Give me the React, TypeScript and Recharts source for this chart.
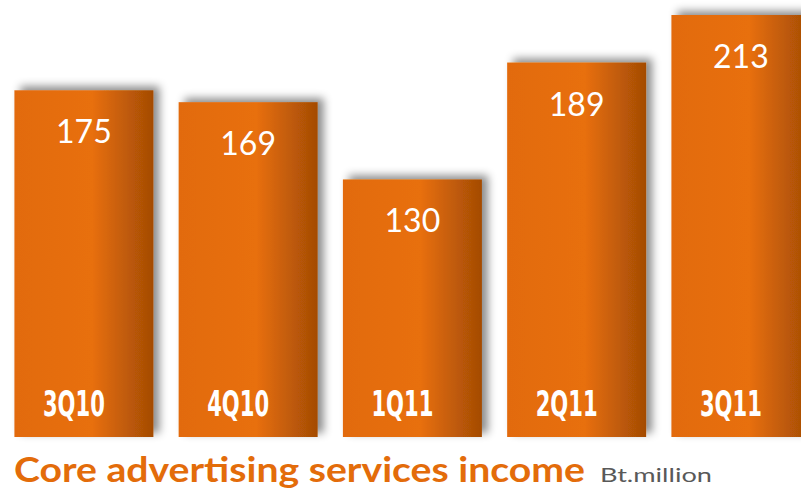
import React from 'react';
import { BarChart, Bar, XAxis, YAxis, LabelList } from 'recharts';

const categories = ['3Q10', '4Q10', '1Q11', '2Q11', '3Q11'];
const incomeValues = [175, 169, 130, 189, 213];

const data = categories.map((c, i) => ({ quarter: c, income: incomeValues[i] }));

const BarShape = (props: any) => {
  const { x, y, width, height } = props;
  return (
    <rect x={x} y={y} width={width} height={height} fill="url(#barGrad)" filter="url(#barShadow)" />
  );
};

const ValueLabel = (props: any) => {
  const { x, y, width, value } = props;
  return (
    <text
      x={x + width / 2}
      y={y + 53}
      textAnchor="middle"
      fill="#ffffff"
      fontFamily="Lato, 'Open Sans', sans-serif"
      fontSize={32}
    >
      {value}
    </text>
  );
};

const CategoryLabel = (props: any) => {
  const { x, width, value } = props;
  const cx = x + width / 2 - 10;
  return (
    <text
      x={cx - 31}
      y={416}
      textAnchor="start"
      fill="#ffffff"
      fontFamily="'Liberation Sans Narrow', 'DejaVu Sans Condensed', sans-serif"
      fontWeight="bold"
      fontSize={36}
      textLength={62}
      lengthAdjust="spacingAndGlyphs"
    >
      {value}
    </text>
  );
};

export default function App() {
  return (
    <div style={{ position: 'absolute', left: 0, top: 0, width: 801, height: 489, overflow: 'hidden', background: '#ffffff' }}>
      <BarChart
        width={823}
        height={489}
        data={data}
        margin={{ top: 15, right: 0.35, bottom: 52, left: 1.4 }}
      >
        <defs>
          <linearGradient id="barGrad" x1="0" y1="0" x2="1" y2="0">
            <stop offset="0%" stopColor="#E26B0B" />
            <stop offset="56%" stopColor="#E86F0A" />
            <stop offset="78%" stopColor="#C45D08" />
            <stop offset="100%" stopColor="#A44B05" />
          </linearGradient>
          <filter id="barShadow" x="-20%" y="-20%" width="140%" height="140%">
            <feDropShadow dx={6} dy={-4} stdDeviation={4} floodColor="#000000" floodOpacity={0.45} />
          </filter>
        </defs>
        <XAxis dataKey="quarter" hide />
        <YAxis hide domain={[0, 213]} />
        <Bar dataKey="income" barSize={139} shape={<BarShape />} isAnimationActive={false}>
          <LabelList dataKey="income" content={<ValueLabel />} />
          <LabelList dataKey="quarter" content={<CategoryLabel />} />
        </Bar>
      </BarChart>
      <svg width={801} height={489} style={{ position: 'absolute', left: 0, top: 0, pointerEvents: 'none' }}>
        <text
          x={14}
          y={482}
          fill="#E36C0A"
          fontFamily="Lato, 'Open Sans', sans-serif"
          fontWeight="bold"
          fontSize={35}
          textLength={571}
          lengthAdjust="spacingAndGlyphs"
        >
          Core advertising services income
        </text>
        <text
          x={600}
          y={482}
          fill="#595959"
          fontFamily="Lato, 'Open Sans', sans-serif"
          fontSize={20}
          textLength={112}
          lengthAdjust="spacingAndGlyphs"
        >
          Bt.million
        </text>
      </svg>
    </div>
  );
}
